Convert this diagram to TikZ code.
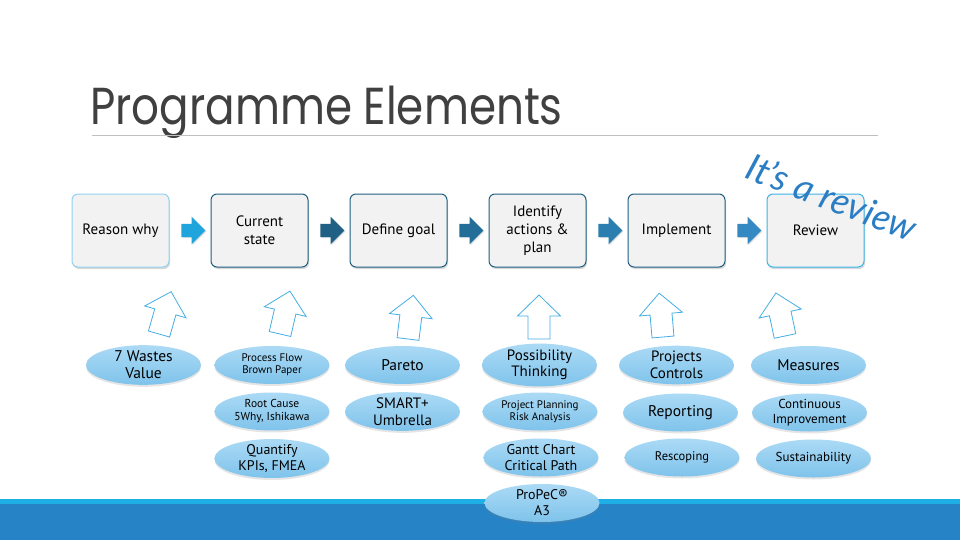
\documentclass[tikz,border=0pt]{standalone}
\usepackage{fontspec}
\setmainfont{PT Sans}
\newfontfamily\titlefont{Poppins}[FakeStretch=0.84]
\newfontfamily\handfont{Lato}
\usepackage{tikz}
\usetikzlibrary{shapes.geometric,shapes.arrows,shadows,calc}

\definecolor{boxgray}{HTML}{F2F2F2}
\definecolor{edgelight}{HTML}{92D2EE}
\definecolor{edgedark}{HTML}{1F5F80}
\definecolor{edgereview}{HTML}{3CB4E6}
\definecolor{arrA}{HTML}{1FA5DC}
\definecolor{arrB}{HTML}{1F6084}
\definecolor{arrC}{HTML}{226E98}
\definecolor{arrD}{HTML}{2A7EB0}
\definecolor{arrE}{HTML}{3589C2}
\definecolor{hollowedge}{HTML}{45AEE3}
\definecolor{elltop}{HTML}{ABDAF5}
\definecolor{ellbot}{HTML}{7FC3EB}
\definecolor{titlegray}{HTML}{404040}
\definecolor{rulegray}{HTML}{BFBFBF}
\definecolor{barlight}{HTML}{1EB0E4}
\definecolor{bardark}{HTML}{2683C6}
\definecolor{handblue}{HTML}{2B7EC4}

\begin{document}
\begin{tikzpicture}[x=1pt,y=-1pt,
    stage/.style={shape=rectangle, draw, line width=1pt, rounded corners=6pt, fill=boxgray,
      minimum width=97pt, minimum height=73pt, align=center,
      font=\fontsize{15}{18}\selectfont,
      drop shadow={shadow xshift=1pt, shadow yshift=-2pt, opacity=0.3}},
    chev/.style={single arrow, inner sep=6.5pt, minimum width=23pt, minimum height=24pt,
      drop shadow={shadow xshift=1pt, shadow yshift=-1pt, opacity=0.25}},
    hollow/.style={draw=hollowedge, fill=white, line width=0.8pt},
    tool/.style={shape=ellipse, minimum width=115pt, minimum height=38pt, inner sep=0pt,
      top color=elltop, bottom color=ellbot, align=center,
      drop shadow={shadow xshift=0pt, shadow yshift=-2pt, opacity=0.2}}]

    \fill[white] (0,0) rectangle (960,540);
    \useasboundingbox (0,0) rectangle (960,540);

    % title and rule
    \node[anchor=base west, inner sep=0pt, text=titlegray,
      font=\titlefont\fontsize{52}{52}\selectfont] (title) at (90,125) {Programme Elements};
    \draw[rulegray, line width=1pt] (92,136) -- (878,136);

    % bottom bar
    \fill[bardark] (0,504) rectangle (960,540);
    \fill[barlight] (0,499) rectangle (960,504);

    % stages
    \node[stage, draw=edgelight] (reason) at (120.5,230.5) {Reason why};
    \node[stage, draw=edgedark] (current) at (259.5,230.5) {Current\\state};
    \node[stage, draw=edgedark] (goal) at (398.5,230.5) {Define goal};
    \node[stage, draw=edgedark] (identify) at (537.5,230.5) {Identify\\actions \&\\plan};
    \node[stage, draw=edgedark] (implement) at (676.5,230.5) {Implement};
    \node[stage, draw=edgereview] (review) at (815.5,230.5) {Review};

    \node[chev, fill=arrA] (toA) at ($(reason.east)!0.5!(current.west)$) {};
    \node[chev, fill=arrB] (toB) at ($(current.east)!0.5!(goal.west)$) {};
    \node[chev, fill=arrC] (toC) at ($(goal.east)!0.5!(identify.west)$) {};
    \node[chev, fill=arrD] (toD) at ($(identify.east)!0.5!(implement.west)$) {};
    \node[chev, fill=arrE] (toE) at ($(implement.east)!0.5!(review.west)$) {};

    % hollow arrows
    \foreach \x/\y/\a in {159/334/-16, 280/334/-13, 408/339/-7, 539/339/0, 663/337/5, 785/336/12}
      \draw[hollow, shift={(\x,\y)}, rotate=\a]
        (-11,0) -- (-11,-23) -- (-21.5,-23) -- (0,-44) -- (21.5,-23) -- (11,-23) -- (11,0) -- cycle;

    % tools
    \node[tool, font=\fontsize{15.5}{17}\selectfont] (wastes) at (143.5,365) {7 Wastes\\Value};
    \node[tool, font=\fontsize{11}{12}\selectfont] (flow) at (272,365) {Process Flow\\Brown Paper};
    \node[tool, font=\fontsize{11.5}{13}\selectfont] (cause) at (272,411.5) {Root Cause\\5Why, Ishikawa};
    \node[tool, font=\fontsize{14}{15.5}\selectfont] (quantify) at (272,458.5) {Quantify\\KPIs, FMEA};
    \node[tool, font=\fontsize{15.5}{17}\selectfont] (pareto) at (402.5,365) {Pareto};
    \node[tool, font=\fontsize{15}{16.5}\selectfont] (smart) at (402.5,411.5) {SMART+\\Umbrella};
    \node[tool, font=\fontsize{15}{16.5}\selectfont] (possib) at (539.5,365) {Possibility\\Thinking};
    \node[tool, font=\fontsize{11}{12}\selectfont] (planning) at (540,411.5) {Project Planning\\Risk Analysis};
    \node[tool, font=\fontsize{14}{15.5}\selectfont] (gantt) at (541,457.5) {Gantt Chart\\Critical Path};
    \node[tool, font=\fontsize{14}{16}\selectfont] (propec) at (542,503) {ProPeC®\\A3};
    \node[tool, font=\fontsize{15}{16.5}\selectfont] (controls) at (676.5,365) {Projects\\Controls};
    \node[tool, font=\fontsize{15.5}{17}\selectfont] (reporting) at (680.5,412.5) {Reporting};
    \node[tool, font=\fontsize{12.5}{14}\selectfont] (rescoping) at (682,457.5) {Rescoping};
    \node[tool, font=\fontsize{15.5}{17}\selectfont] (measures) at (808.5,365) {Measures};
    \node[tool, font=\fontsize{13}{14.5}\selectfont] (improve) at (809.5,412.5) {Continuous\\Improvement};
    \node[tool, font=\fontsize{13}{14.5}\selectfont] (sustain) at (813.5,458.5) {Sustainability};

    % remark
    \node[rotate=-21, text=handblue, font=\handfont\itshape\fontsize{37}{37}\selectfont] (remark) at (832,197) {It’s a review};
\end{tikzpicture}
\end{document}
